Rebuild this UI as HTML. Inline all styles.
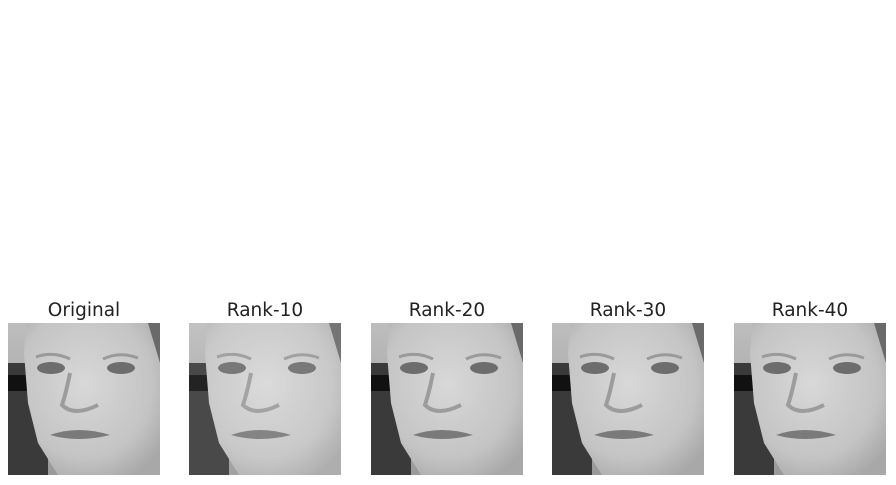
<!DOCTYPE html>
<html><head><meta charset="utf-8"><style>
body{margin:0;background:#fff;width:896px;height:485px;overflow:hidden;font-family:"DejaVu Sans","Liberation Sans",sans-serif}
svg{position:absolute;left:0;top:0}
</style></head><body>
<svg width="896" height="485">
<defs>
<linearGradient id="bg" x1="0" y1="0" x2="0" y2="1"><stop offset="0" stop-color="#bdbdbd"/><stop offset="1" stop-color="#9a9a9a"/></linearGradient>
<radialGradient id="skin" cx="0.45" cy="0.4" r="0.7"><stop offset="0" stop-color="#d8d8d8"/><stop offset="0.7" stop-color="#c4c4c4"/><stop offset="1" stop-color="#a8a8a8"/></radialGradient>
<g id="face">
<rect x="0" y="0" width="152" height="152" fill="url(#bg)"/>
<rect x="0" y="40" width="40" height="112" fill="#3a3a3a"/>
<rect x="0" y="52" width="30" height="16" fill="#111"/>
<path d="M18 0 H140 L152 20 V152 H50 L30 120 L20 80 L16 30 Z" fill="url(#skin)"/>
<path d="M140 0 H152 V40 Z" fill="#6a6a6a"/>
<ellipse cx="43" cy="45" rx="14" ry="6" fill="#6d6d6d"/>
<ellipse cx="113" cy="45" rx="14" ry="6" fill="#6d6d6d"/>
<path d="M28 34 Q45 28 62 36" stroke="#9a9a9a" stroke-width="3" fill="none"/>
<path d="M95 36 Q112 28 130 35" stroke="#9a9a9a" stroke-width="3" fill="none"/>
<path d="M62 50 Q58 70 54 82 Q66 94 90 82" stroke="#9c9c9c" stroke-width="4" fill="none"/>
<path d="M42 112 Q70 102 102 112 Q70 120 42 112 Z" fill="#7a7a7a"/>
</g>
</defs>
<g font-size="18.5" fill="#222" text-anchor="middle">
<text x="84" y="316">Original</text>
<text x="265" y="316">Rank-10</text>
<text x="447" y="316">Rank-20</text>
<text x="628" y="316">Rank-30</text>
<text x="810" y="316">Rank-40</text>
</g>
<use href="#face" x="8" y="323"/>
<use href="#face" x="189" y="323" opacity="0.92"/>
<use href="#face" x="371" y="323"/>
<use href="#face" x="552" y="323"/>
<use href="#face" x="734" y="323"/>
</svg>
</body></html>
